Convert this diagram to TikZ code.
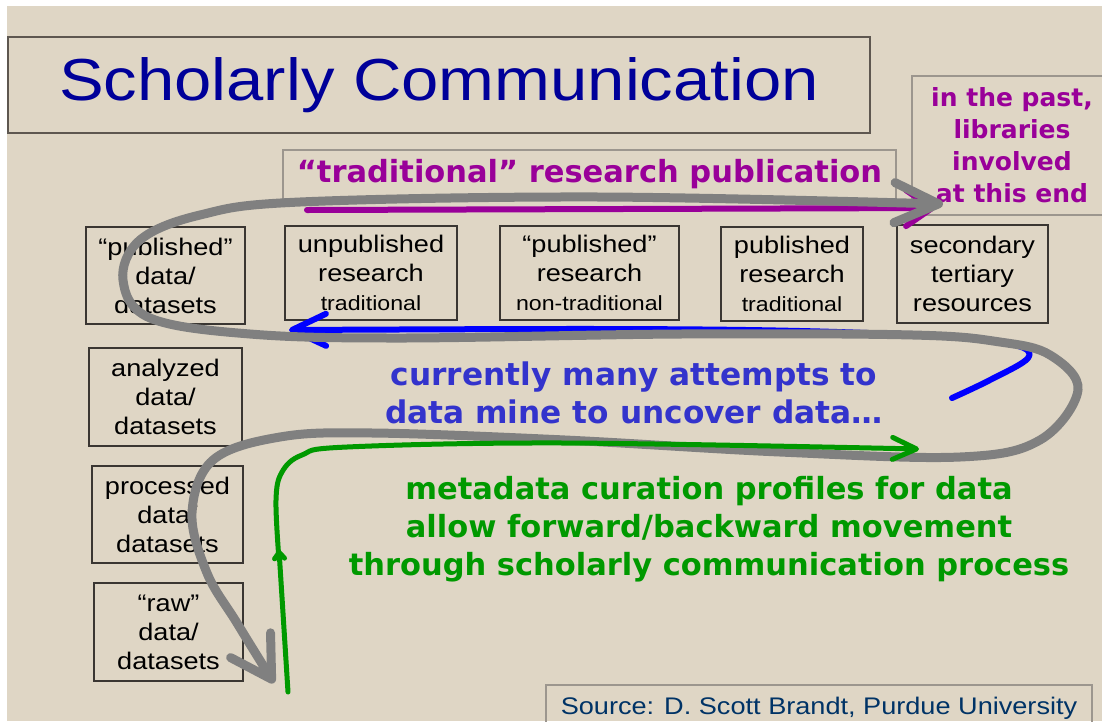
\documentclass[tikz,border=0pt]{standalone}
\usepackage{fontspec}
\setmainfont{Liberation Sans}[FakeStretch=1.13]
\newfontfamily\comicfont{DejaVu Sans}
\usetikzlibrary{arrows.meta}
\definecolor{slidebg}{HTML}{DFD6C5}
\definecolor{boxline}{HTML}{3A3632}
\definecolor{titleline}{HTML}{5E5750}
\definecolor{lightline}{HTML}{9C968E}
\definecolor{titleblue}{HTML}{000099}
\definecolor{purp}{HTML}{990099}
\definecolor{minetext}{HTML}{3333CC}
\definecolor{minepath}{HTML}{0000FF}
\definecolor{curegreen}{HTML}{009900}
\definecolor{pathgray}{HTML}{808080}
\definecolor{srcblue}{HTML}{003366}
\begin{document}
\begin{tikzpicture}[x=1pt,y=-1pt,
    stage/.style 2 args={draw=boxline,line width=1.2pt,minimum width=#1pt,minimum height=#2pt,
      inner sep=0pt,align=center,font=\fontsize{24}{29}\selectfont},
    flow/.style={line width=#1,line cap=round,line join=round}]
  \useasboundingbox (0,0) rectangle (1102,721);
  \fill[white] (0,0) rectangle (1102,721);
  \fill[slidebg] (7,6) rectangle (1102,721);

  \node[draw=titleline,line width=2.4pt,minimum width=862pt,minimum height=96pt,inner sep=0pt,
    text=titleblue,font=\fontsize{59.3}{70}\selectfont] (title) at (439,85) {Scholarly Communication};
  \node[draw=lightline,line width=1.3pt,minimum width=200pt,minimum height=139pt,inner sep=0pt,
    align=center,text=purp,font=\comicfont\bfseries\fontsize{25}{32}\selectfont] (pastnote) at (1012,145.5)
    {in the past,\\libraries\\involved\\at this end};
  \node[draw=lightline,line width=1.3pt,minimum width=613pt,minimum height=49pt,inner sep=0pt,
    text=purp,font=\comicfont\bfseries\fontsize{30.5}{38}\selectfont] (tradpub) at (589.5,174.5)
    {“traditional” research publication};

  \node[stage={159}{97}] (pubdata) at (165.5,275.5) {“published”\\data/\\datasets};
  \node[stage={172}{94}] (unpub) at (371,273) {unpublished\\research\\{\fontsize{20.5}{29}\selectfont traditional}};
  \node[stage={179}{94}] (nontrad) at (589.5,273) {“published”\\research\\{\fontsize{20.5}{29}\selectfont non-traditional}};
  \node[stage={142}{94}] (pubtrad) at (792,274) {published\\research\\{\fontsize{20.5}{29}\selectfont traditional}};
  \node[stage={151}{98}] (secondary) at (972.5,274) {secondary\\tertiary\\resources};
  \node[stage={153}{98}] (analyzed) at (165.5,397) {analyzed\\data/\\datasets};
  \node[stage={151}{97}] (processed) at (167.5,514.5) {processed\\data/\\datasets};
  \node[stage={149}{98}] (raw) at (168.5,632) {“raw”\\data/\\datasets};

  \node[align=center,text=minetext,font=\comicfont\bfseries\fontsize{31.2}{38}\selectfont] (mining) at (634,393)
    {currently many attempts to\\data mine to uncover data…};
  \node[align=center,text=curegreen,font=\comicfont\bfseries\fontsize{30.5}{38}\selectfont] (curation) at (709,529)
    {metadata curation profiles for data\\allow forward/backward movement\\through scholarly communication process};

  \node[draw=lightline,line width=1.3pt,minimum width=546pt,minimum height=46pt,inner sep=0pt,
    text=srcblue,font=\fontsize{24}{29}\selectfont] (source) at (819,708) {Source: D. Scott Brandt, Purdue University};

  \coordinate (pubStart) at (307,210);
  \coordinate (pubEnd) at (935,208);
  \draw[flow=6pt,minepath,-{Straight Barb[length=34pt,width=32pt,line width=6pt,round]}] plot[smooth,tension=0.6] coordinates
    {(952,398) (990,380) (1028,358) (1015,345) (950,337) (800,331) (600,329) (289,330)};
  \draw[flow=6pt,purp,-{Straight Barb[length=26pt,width=36pt,line width=6pt,round]}] (pubStart) -- (pubEnd);
  \draw[flow=9pt,pathgray,{Straight Barb[length=40pt,width=47pt,line width=9pt,round]}-{Straight Barb[length=44pt,width=40pt,line width=9pt,round]}]
    plot[smooth,tension=0.6] coordinates {(274,683) (237,623) (207,573) (192,513) (213,460) (280,437)
    (373,433) (565,440) (780,452) (960,457) (1040,440) (1078,390) (1050,355) (1000,342) (913,335)
    (680,334) (400,338) (250,334) (150,318) (123,280) (140,240) (200,215) (300,202) (600,197) (943,204)};
  \draw[flow=5pt,curegreen,-{Straight Barb[length=6pt,width=10pt,line width=5pt,round]}] (288,692) -- (279,550);
  \draw[flow=5pt,curegreen,-{Straight Barb[length=24pt,width=22pt,line width=5pt,round]}] plot[smooth,tension=0.6] coordinates
    {(279,560) (276,500) (282,472) (302,455) (347,447) (565,443) (919,449)};
\end{tikzpicture}
\end{document}
